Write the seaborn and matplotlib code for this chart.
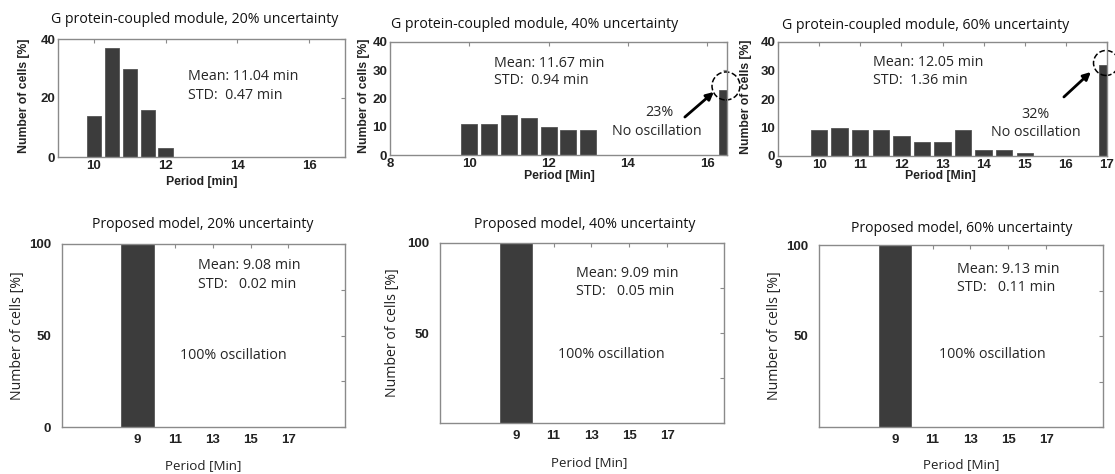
import matplotlib
matplotlib.use("Agg")
import matplotlib.pyplot as plt
from matplotlib.patches import Ellipse
import pandas as pd
import seaborn as sns

# --- data ---
g20_period = [10, 10.5, 11, 11.5, 12]
g20_cells = [14, 37, 30, 16, 3]
g40_period = [10, 10.5, 11, 11.5, 12, 12.5, 13, 16.5]
g40_cells = [11, 11, 14, 13, 10, 9, 9, 23]
g60_period = [10, 10.5, 11, 11.5, 12, 12.5, 13, 13.5, 14, 14.5, 15, 17]
g60_cells = [9, 10, 9, 9, 7, 5, 5, 9, 2, 2, 1, 32]
prop_period = [9]
prop_cells = [100]

uncertainty = ["20%", "40%", "60%"]
g_mean = ["11.04", "11.67", "12.05"]
g_std = ["0.47", "0.94", "1.36"]
p_mean = ["9.08", "9.09", "9.13"]
p_std = ["0.02", "0.05", "0.11"]
no_osc = ["23%", "32%"]

BAR = "#3c3c3c"
FRAME = "#8a8a8a"
CAL = "Open Sans"
ARL = "Liberation Sans"
TXT = 10.3  # size of the in-plot annotations

sns.set_style("white")
plt.rcParams["font.family"] = [ARL, "DejaVu Sans"]

W, H = 1115, 474
fig = plt.figure(figsize=(W / 100, H / 100), dpi=100)


def make_ax(l, t, r, b):
    return fig.add_axes([l / W, 1 - b / H, (r - l) / W, (b - t) / H])


def style(ax, xlim, ylim, xticks, yticks, ylabels, xpad, ypad):
    ax.set_xlim(*xlim)
    ax.set_ylim(*ylim)
    ax.set_xticks(xticks)
    ax.set_xticklabels([f"{v:g}" for v in xticks])
    ax.set_yticks(yticks)
    ax.set_yticklabels(ylabels)
    for s in ax.spines.values():
        s.set_color(FRAME)
        s.set_linewidth(1.0)
    ax.tick_params(direction="in", top=True, right=True, length=3, width=0.8,
                   color=FRAME, labelsize=9.5, labelcolor="#222222")
    ax.tick_params(axis="x", pad=xpad)
    ax.tick_params(axis="y", pad=ypad)
    for lab in ax.get_xticklabels() + ax.get_yticklabels():
        lab.set_fontweight("bold")


def bars(ax, xs, ys, width):
    df = pd.DataFrame({"period": xs, "cells": ys})
    sns.barplot(data=df, x="period", y="cells", native_scale=True, orient="x",
                color=BAR, saturation=1, width=width, errorbar=None,
                edgecolor="#555555", linewidth=0.6, ax=ax)


# ---------------- top row: G protein-coupled module ----------------
top_rects = [(58, 39, 345, 157), (390, 42, 727, 155), (778, 42, 1107, 156)]
top_data = [(g20_period, g20_cells), (g40_period, g40_cells), (g60_period, g60_cells)]
top_xlim = [(9, 17), (8, 16.5), (9, 17)]
top_xticks = [[10, 12, 14, 16], [8, 10, 12, 14, 16], list(range(9, 18))]
top_yticks = [[0, 20, 40], [0, 10, 20, 30, 40], [0, 10, 20, 30, 40]]
top_xlab = ["Period [min]", "Period [Min]", "Period [Min]"]
top_title_pos = [(0.477, 1.169), (0.43, 1.159), (0.45, 1.149)]
top_mean_pos = [(0.453, 0.678, 0.517), (0.309, 0.814, 0.655), (0.289, 0.816, 0.658)]
top_xlab_pos = [(0.502, -0.215), (0.503, -0.185), (0.495, -0.175)]
top_ylab_x = [-0.118, -0.076, -0.096]

top_axes = []
for i in range(3):
    ax = make_ax(*top_rects[i])
    bars(ax, top_data[i][0], top_data[i][1], 0.8)
    style(ax, top_xlim[i], (0, 40), top_xticks[i], top_yticks[i],
          [str(v) for v in top_yticks[i]], 2, 2)
    ax.set_title(f"G protein-coupled module, {uncertainty[i]} uncertainty",
                 x=top_title_pos[i][0], y=top_title_pos[i][1], pad=0, va="center",
                 fontsize=10.2, family=CAL, color="#111111")
    ax.set_xlabel(top_xlab[i], fontsize=8.8, fontweight="bold", color="#222222")
    ax.xaxis.set_label_coords(*top_xlab_pos[i])
    ax.xaxis.label.set_va("center")
    ax.set_ylabel("Number of cells [%]", fontsize=8.8, fontweight="bold", color="#222222")
    ax.yaxis.set_label_coords(top_ylab_x[i], 0.52)
    ax.yaxis.label.set_va("center")
    mx, my, sy = top_mean_pos[i]
    ax.text(mx, my, f"Mean: {g_mean[i]} min", transform=ax.transAxes,
            family=CAL, fontsize=TXT, va="center", ha="left")
    ax.text(mx, sy, f"STD:  {g_std[i]} min", transform=ax.transAxes,
            family=CAL, fontsize=TXT, va="center", ha="left")
    top_axes.append(ax)

# "no oscillation" call-outs
callouts = [
    dict(ax=top_axes[1], pct=(0.798, 0.372), lab=(0.792, 0.212),
         a0=(0.875, 0.336), a1=(0.961, 0.558), c=(0.997, 0.611), cw=0.083, ch=0.248),
    dict(ax=top_axes[2], pct=(0.784, 0.368), lab=(0.784, 0.21),
         a0=(0.869, 0.518), a1=(0.951, 0.737), c=(0.997, 0.816), cw=0.076, ch=0.219),
]
for k, c in enumerate(callouts):
    ax = c["ax"]
    ax.text(*c["pct"], no_osc[k], transform=ax.transAxes, family=CAL,
            fontsize=TXT, ha="center", va="center")
    ax.text(*c["lab"], "No oscillation", transform=ax.transAxes, family=CAL,
            fontsize=TXT, ha="center", va="center")
    ax.annotate("", xy=c["a1"], xytext=c["a0"], xycoords="axes fraction",
                textcoords="axes fraction",
                arrowprops=dict(arrowstyle="-|>", lw=2, color="black",
                                mutation_scale=11, shrinkA=0, shrinkB=0),
                annotation_clip=False)
    ax.add_patch(Ellipse(c["c"], c["cw"], c["ch"], transform=ax.transAxes,
                         fill=False, ls="--", lw=1.1, color="black", clip_on=False))

# ---------------- bottom row: proposed model ----------------
bot_rects = [(62, 244, 345, 427), (440, 243, 724, 423), (819, 245, 1103, 427)]
bot_ylabels = [["0", "", "50", "", "100"], ["", "", "50", "", "100"],
               ["", "", "50", "", "100"]]
bot_title_pos = [(0.498, 1.104), (0.511, 1.10), (0.504, 1.093)]
bot_mean_pos = [(0.48, 0.885, 0.781), (0.479, 0.833, 0.733), (0.486, 0.868, 0.769)]
bot_osc_pos = [(0.604, 0.393), (0.602, 0.378), (0.609, 0.396)]
bot_xlab_pos = [(0.5, -0.208), (0.525, -0.222), (0.5, -0.209)]
bot_ylab_x = [-0.159, -0.169, -0.158]

for i in range(3):
    ax = make_ax(*bot_rects[i])
    bars(ax, prop_period, prop_cells, 1.7)
    style(ax, (5, 20), (0, 100), [9, 11, 13, 15, 17], [0, 25, 50, 75, 100],
          bot_ylabels[i], 5, 8)
    ax.set_title(f"Proposed model, {uncertainty[i]} uncertainty",
                 x=bot_title_pos[i][0], y=bot_title_pos[i][1], pad=0, va="center",
                 fontsize=10.1, family=CAL, color="#111111")
    ax.set_xlabel("Period [Min]", fontsize=9.6, family=CAL, color="#222222")
    ax.xaxis.set_label_coords(*bot_xlab_pos[i])
    ax.xaxis.label.set_va("center")
    ax.set_ylabel("Number of cells [%]", fontsize=10.2, family=CAL, color="#222222")
    ax.yaxis.set_label_coords(bot_ylab_x[i], 0.5)
    ax.yaxis.label.set_va("center")
    mx, my, sy = bot_mean_pos[i]
    ax.text(mx, my, f"Mean: {p_mean[i]} min", transform=ax.transAxes,
            family=CAL, fontsize=TXT, va="center", ha="left")
    ax.text(mx, sy, f"STD:   {p_std[i]} min", transform=ax.transAxes,
            family=CAL, fontsize=TXT, va="center", ha="left")
    ox, oy = bot_osc_pos[i]
    ax.text(ox, oy, "100% oscillation", transform=ax.transAxes,
            family=CAL, fontsize=TXT, va="center", ha="center")

fig.savefig("out.png", dpi=100, facecolor="white")
